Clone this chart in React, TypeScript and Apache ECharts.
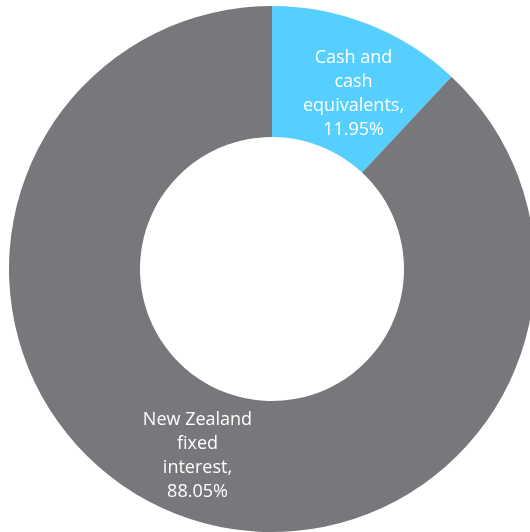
import React, { useEffect, useRef } from "react";
import * as echarts from "echarts";

const categories = ["Cash and\ncash\nequivalents,", "New Zealand\nfixed\ninterest,"];
const values = [11.95, 88.05];
const colors = ["#56CFFE", "#77787B"];

export default function App() {
  const ref = useRef<HTMLDivElement>(null);
  useEffect(() => {
    if (!ref.current) return;
    const chart = echarts.init(ref.current, null, { renderer: "svg" });
    chart.setOption({
      animation: false,
      series: [
        {
          type: "pie",
          center: [272, 269],
          radius: [132, 263],
          startAngle: 90,
          clockwise: true,
          avoidLabelOverlap: false,
          label: {
            show: true,
            position: "inside",
            color: "#ffffff",
            fontFamily: "Open Sans",
            fontSize: 18,
            lineHeight: 24,
            align: "center",
            formatter: (p: any) => `${p.name}\n${p.value.toFixed(2)}%`,
          },
          labelLine: { show: false },
          data: categories.map((c, i) => ({
            name: c,
            value: values[i],
            itemStyle: { color: colors[i] },
            label: i === 0 ? { offset: [8, 10] } : { offset: [-1, -2] },
          })),
        },
      ],
    });
    return () => chart.dispose();
  }, []);
  return (
    <div
      ref={ref}
      style={{ position: "fixed", left: 0, top: 0, width: 530, height: 532 }}
    />
  );
}
